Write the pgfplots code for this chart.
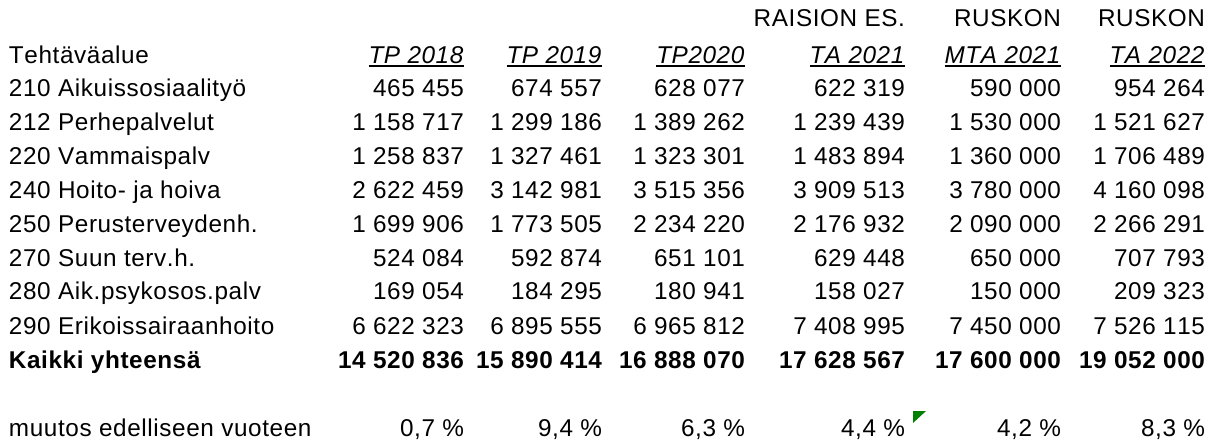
\documentclass[border=0pt]{standalone}
\usepackage{fontspec}
\setmainfont{Liberation Sans}[LetterSpace=2.5,Kerning=Off]
\usepackage{pgfplots}
\usepackage{pgfplotstable}
\pgfplotsset{compat=1.18}
\newcommand\ul[1]{\leavevmode\vtop{\hbox{#1}\kern0.8pt\hrule height 0.95pt}}

\pgfplotstableread[col sep=comma]{
y,name,a,b,c,d,e,f
96.7,210 Aikuissosiaalityö,465455,674557,628077,622319,590000,954264
130,212 Perhepalvelut,1158717,1299186,1389262,1239439,1530000,1521627
164.5,220 Vammaispalv,1258837,1327461,1323301,1483894,1360000,1706489
198.5,240 Hoito- ja hoiva,2622459,3142981,3515356,3909513,3780000,4160098
232,250 Perusterveydenh.,1699906,1773505,2234220,2176932,2090000,2266291
266,270 Suun terv.h.,524084,592874,651101,629448,650000,707793
299.5,280 Aik.psykosos.palv,169054,184295,180941,158027,150000,209323
334,290 Erikoissairaanhoito,6622323,6895555,6965812,7408995,7450000,7526115
}\rows

\pgfplotstableread[col sep=comma]{
y,name,a,b,c,d,e,f
368,Kaikki yhteensä,14520836,15890414,16888070,17628567,17600000,19052000
}\total

\pgfplotstableread[col sep=comma]{
y,name,a,b,c,d,e,f
436.7,muutos edelliseen vuoteen,0.7,9.4,6.3,4.4,4.2,8.3
}\change

\pgfplotstableread[col sep=comma]{
y,name,a,b,c,d,e,f
63.3,Tehtäväalue,TP 2018,TP 2019,TP2020,TA 2021,MTA 2021,TA 2022
}\headtwo

\pgfplotstableread[col sep=comma]{
y,d,e,f
26.7,RAISION ES.,RUSKON,RUSKON
}\headone

\pgfplotsset{
  txt/.style={draw=none, mark=none, point meta=explicit symbolic, nodes near coords,
    every node near coord/.append style={inner sep=0pt, outer sep=0pt, anchor=base east, text=black}},
  txtw/.style={txt, every node near coord/.append style={anchor=base west}},
  num/.style={txt, nodes near coords={\pgfmathprintnumber[int detect,1000 sep={\ },assume math mode=true]{\pgfplotspointmeta}}},
  pct/.style={txt, nodes near coords={\pgfmathprintnumber[fixed,fixed zerofill,precision=1,use comma,assume math mode=true]{\pgfplotspointmeta}\ \%}},
  hd/.style={txt, nodes near coords={\ul{\textit{\pgfplotspointmeta}}}},
  plain/.style={txt, nodes near coords={\pgfplotspointmeta}},
  bold/.style={every node near coord/.append style={font=\fontsize{12.15}{14}\selectfont\bfseries}},
}

\begin{document}
\fontsize{12.15}{14}\selectfont
\begin{tikzpicture}
\useasboundingbox (0,0) rectangle (609.5pt,220.5pt);
\begin{axis}[at={(0,0)}, anchor=south west, scale only axis,
  width=609.5pt, height=220.5pt,
  xmin=0, xmax=1219, ymin=0, ymax=441, y dir=reverse,
  hide axis, clip=false]
% header rows
\addplot[plain] table[x expr=905, y=y, meta=d] {\headone};
\addplot[plain] table[x expr=1061, y=y, meta=e] {\headone};
\addplot[plain] table[x expr=1205, y=y, meta=f] {\headone};
\addplot[txtw, nodes near coords={\pgfplotspointmeta}] table[x expr=9, y=y, meta=name] {\headtwo};
\addplot[hd] table[x expr=464, y=y, meta=a] {\headtwo};
\addplot[hd] table[x expr=602, y=y, meta=b] {\headtwo};
\addplot[hd] table[x expr=745, y=y, meta=c] {\headtwo};
\addplot[hd] table[x expr=905, y=y, meta=d] {\headtwo};
\addplot[hd] table[x expr=1061, y=y, meta=e] {\headtwo};
\addplot[hd] table[x expr=1205, y=y, meta=f] {\headtwo};
% data rows
\addplot[txtw, nodes near coords={\pgfplotspointmeta}] table[x expr=9, y=y, meta=name] {\rows};
\addplot[num] table[x expr=464, y=y, meta=a] {\rows};
\addplot[num] table[x expr=602, y=y, meta=b] {\rows};
\addplot[num] table[x expr=745, y=y, meta=c] {\rows};
\addplot[num] table[x expr=905, y=y, meta=d] {\rows};
\addplot[num] table[x expr=1061, y=y, meta=e] {\rows};
\addplot[num] table[x expr=1205, y=y, meta=f] {\rows};
% total row
\addplot[txtw, bold, nodes near coords={\pgfplotspointmeta}] table[x expr=9, y=y, meta=name] {\total};
\addplot[num, bold] table[x expr=464, y=y, meta=a] {\total};
\addplot[num, bold] table[x expr=602, y=y, meta=b] {\total};
\addplot[num, bold] table[x expr=745, y=y, meta=c] {\total};
\addplot[num, bold] table[x expr=905, y=y, meta=d] {\total};
\addplot[num, bold] table[x expr=1061, y=y, meta=e] {\total};
\addplot[num, bold] table[x expr=1205, y=y, meta=f] {\total};
% change row
\addplot[txtw, nodes near coords={\pgfplotspointmeta}] table[x expr=9, y=y, meta=name] {\change};
\addplot[pct] table[x expr=464, y=y, meta=a] {\change};
\addplot[pct] table[x expr=602, y=y, meta=b] {\change};
\addplot[pct] table[x expr=745, y=y, meta=c] {\change};
\addplot[pct] table[x expr=905, y=y, meta=d] {\change};
\addplot[pct] table[x expr=1061, y=y, meta=e] {\change};
\addplot[pct] table[x expr=1205, y=y, meta=f] {\change};
% green cell indicator
\addplot[fill={rgb,255:red,0;green,128;blue,0}, draw=none, mark=none] coordinates {(913,411) (926,411) (913,423) (913,411)};
\end{axis}
\end{tikzpicture}
\end{document}
